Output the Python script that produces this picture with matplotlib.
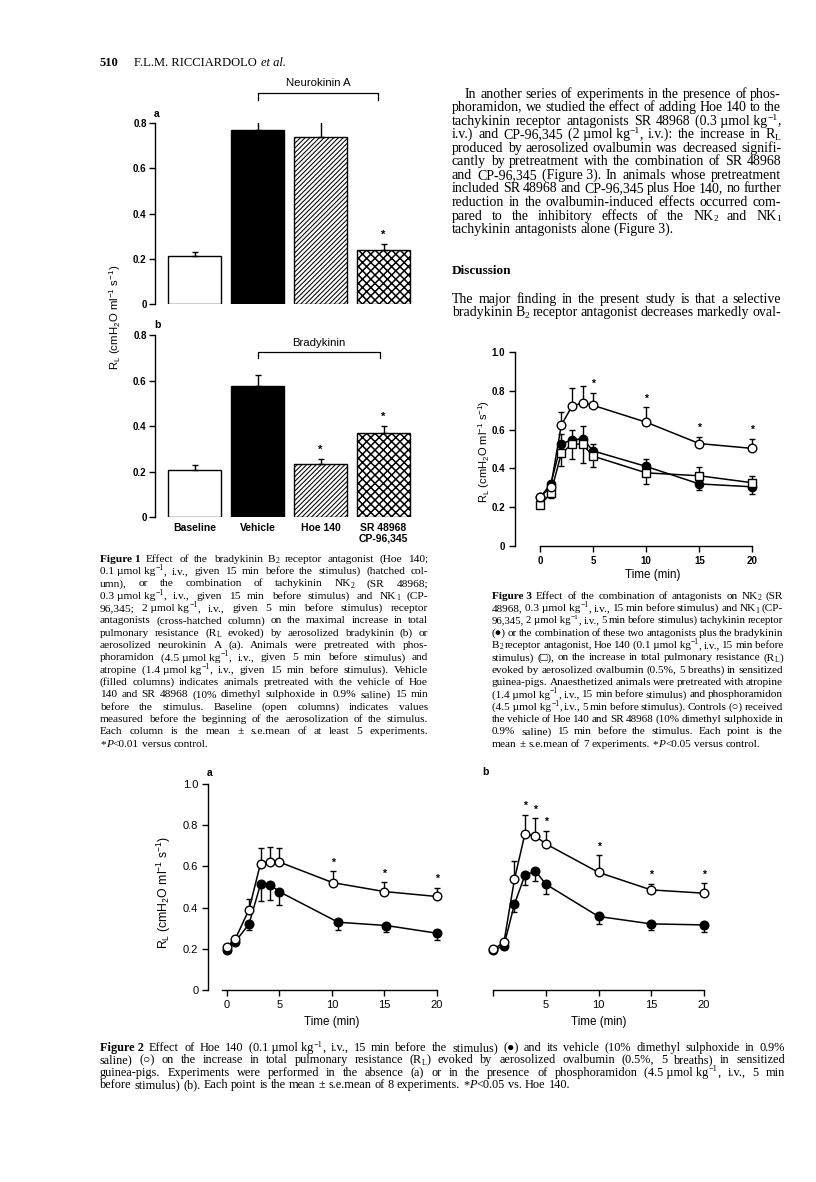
import re
import matplotlib
matplotlib.use('Agg')
import matplotlib.pyplot as plt
import numpy as np

W, H, DPI = 816, 1182, 100

plt.rcParams['font.family'] = ['Liberation Sans', 'DejaVu Sans']
plt.rcParams['mathtext.fontset'] = 'custom'
plt.rcParams['mathtext.rm'] = 'Liberation Sans'
plt.rcParams['mathtext.it'] = 'Liberation Sans:italic'
plt.rcParams['mathtext.bf'] = 'Liberation Sans:bold'
plt.rcParams['hatch.linewidth'] = 0.6

SERIF = ['Liberation Serif', 'DejaVu Serif']
SANS = ['Liberation Sans', 'DejaVu Sans']

# ---------------- data ----------------
# Figure 1 (bars)
fig1_groups = ['Baseline', 'Vehicle', 'Hoe 140', 'SR 48968\nCP-96,345']
fig1a_mean = [0.211, 0.769, 0.737, 0.237]
fig1a_sem = [0.017, 0.057, 0.072, 0.028]
fig1a_sig = [False, False, False, True]
fig1b_mean = [0.208, 0.578, 0.235, 0.369]
fig1b_sem = [0.019, 0.044, 0.021, 0.029]
fig1b_sig = [False, False, True, True]

# Figure 3 (time course)
fig3_time = [0, 1, 2, 3, 4, 5, 10, 15, 20]
fig3_ctrl = [0.254, 0.302, 0.623, 0.720, 0.738, 0.725, 0.638, 0.528, 0.503]
fig3_ctrl_hi = [0.0, 0.0, 0.068, 0.096, 0.085, 0.066, 0.078, 0.035, 0.051]
fig3_ctrl_lo = [0.0, 0.0, 0.0, 0.0, 0.0, 0.0, 0.0, 0.0, 0.0]
fig3_ctrl_sig = [False, False, False, False, False, True, True, True, True]
fig3_nk = [0.250, 0.319, 0.528, 0.545, 0.554, 0.490, 0.410, 0.320, 0.305]
fig3_nk_hi = [0.0, 0.0, 0.048, 0.055, 0.063, 0.035, 0.040, 0.0, 0.0]
fig3_nk_lo = [0.0, 0.0, 0.0, 0.0, 0.0, 0.0, 0.0, 0.032, 0.035]
fig3_hoe = [0.211, 0.271, 0.477, 0.525, 0.525, 0.463, 0.377, 0.362, 0.326]
fig3_hoe_hi = [0.0, 0.0, 0.0, 0.0, 0.0, 0.0, 0.0, 0.043, 0.036]
fig3_hoe_lo = [0.0, 0.025, 0.067, 0.074, 0.095, 0.055, 0.055, 0.0, 0.0]

# Figure 2a
fig2a_time_veh = [0, 0.8, 2.1, 3.2, 4.1, 5.0, 10.1, 15.0, 20.0]
fig2a_veh = [0.211, 0.248, 0.390, 0.614, 0.621, 0.621, 0.521, 0.478, 0.454]
fig2a_veh_hi = [0.0, 0.0, 0.054, 0.076, 0.074, 0.067, 0.057, 0.047, 0.043]
fig2a_veh_sig = [False, False, False, False, False, False, True, True, True]
fig2a_time_hoe = [0, 0.8, 2.1, 3.2, 4.1, 5.0, 10.6, 15.2, 20.0]
fig2a_hoe = [0.192, 0.235, 0.320, 0.513, 0.512, 0.477, 0.329, 0.313, 0.276]
fig2a_hoe_lo = [0.0, 0.010, 0.028, 0.080, 0.075, 0.063, 0.040, 0.033, 0.034]

# Figure 2b
fig2b_time = [0, 1, 2, 3, 4, 5, 10, 15, 20]
fig2b_veh = [0.197, 0.232, 0.537, 0.759, 0.746, 0.709, 0.571, 0.486, 0.470]
fig2b_veh_hi = [0.0, 0.0, 0.089, 0.092, 0.088, 0.064, 0.084, 0.030, 0.048]
fig2b_veh_sig = [False, False, False, True, True, True, True, True, True]
fig2b_hoe = [0.192, 0.216, 0.417, 0.558, 0.577, 0.513, 0.357, 0.321, 0.316]
fig2b_hoe_lo = [0.0, 0.019, 0.040, 0.050, 0.048, 0.048, 0.037, 0.032, 0.036]

RL_LABEL = r'R$\mathregular{_L}$ (cmH$\mathregular{_2}$O ml$\mathregular{^{-1}}$ s$\mathregular{^{-1}}$)'

# ---------------- text ----------------
# markup: ^{..} superscript, _{..} subscript, ~{..} italic, leading § bold word
header_num = '510'
header_name = 'F.L.M. RICCIARDOLO'
header_etal = 'et al.'

fig1_caption = [
    '§Figure 1 Effect of the bradykinin B_{2} receptor antagonist (Hoe 140;',
    '0.1 µmol kg^{−1}, i.v., given 15 min before the stimulus) (hatched col-',
    'umn), or the combination of tachykinin NK_{2} (SR 48968;',
    '0.3 µmol kg^{−1}, i.v., given 15 min before stimulus) and NK_{1} (CP-',
    '96,345; 2 µmol kg^{−1}, i.v., given 5 min before stimulus) receptor',
    'antagonists (cross-hatched column) on the maximal increase in total',
    'pulmonary resistance (R_{L} evoked) by aerosolized bradykinin (b) or',
    'aerosolized neurokinin A (a). Animals were pretreated with phos-',
    'phoramidon (4.5 µmol kg^{−1}, i.v., given 5 min before stimulus) and',
    'atropine (1.4 µmol kg^{−1}, i.v., given 15 min before stimulus). Vehicle',
    '(filled columns) indicates animals pretreated with the vehicle of Hoe',
    '140 and SR 48968 (10% dimethyl sulphoxide in 0.9% saline) 15 min',
    'before the stimulus. Baseline (open columns) indicates values',
    'measured before the beginning of the aerosolization of the stimulus.',
    'Each column is the mean ± s.e.mean of at least 5 experiments.',
    '*~{P}<0.01 versus control.',
]

fig3_caption = [
    '§Figure 3 Effect of the combination of antagonists on NK_{2} (SR',
    '48968, 0.3 µmol kg^{−1}, i.v., 15 min before stimulus) and NK_{1} (CP-',
    '96,345, 2 µmol kg^{−1}, i.v., 5 min before stimulus) tachykinin receptor',
    '(●) or the combination of these two antagonists plus the bradykinin',
    'B_{2} receptor antagonist, Hoe 140 (0.1 µmol kg^{−1}, i.v., 15 min before',
    'stimulus) (□), on the increase in total pulmonary resistance (R_{L})',
    'evoked by aerosolized ovalbumin (0.5%, 5 breaths) in sensitized',
    'guinea-pigs. Anaesthetized animals were pretreated with atropine',
    '(1.4 µmol kg^{−1}, i.v., 15 min before stimulus) and phosphoramidon',
    '(4.5 µmol kg^{−1}, i.v., 5 min before stimulus). Controls (○) received',
    'the vehicle of Hoe 140 and SR 48968 (10% dimethyl sulphoxide in',
    '0.9% saline) 15 min before the stimulus. Each point is the',
    'mean ± s.e.mean of 7 experiments. *~{P}<0.05 versus control.',
]

fig2_caption = [
    '§Figure 2 Effect of Hoe 140 (0.1 µmol kg^{−1}, i.v., 15 min before the stimulus) (●) and its vehicle (10% dimethyl sulphoxide in 0.9%',
    'saline) (○) on the increase in total pulmonary resistance (R_{L}) evoked by aerosolized ovalbumin (0.5%, 5 breaths) in sensitized',
    'guinea-pigs. Experiments were performed in the absence (a) or in the presence of phosphoramidon (4.5 µmol kg^{−1}, i.v., 5 min',
    'before stimulus) (b). Each point is the mean ± s.e.mean of 8 experiments. *~{P}<0.05 vs. Hoe 140.',
]

body_para1 = [
    'In another series of experiments in the presence of phos-',
    'phoramidon, we studied the effect of adding Hoe 140 to the',
    'tachykinin receptor antagonists SR 48968 (0.3 µmol kg^{−1},',
    'i.v.) and CP-96,345 (2 µmol kg^{−1}, i.v.): the increase in R_{L}',
    'produced by aerosolized ovalbumin was decreased signifi-',
    'cantly by pretreatment with the combination of SR 48968',
    'and CP-96,345 (Figure 3). In animals whose pretreatment',
    'included SR 48968 and CP-96,345 plus Hoe 140, no further',
    'reduction in the ovalbumin-induced effects occurred com-',
    'pared to the inhibitory effects of the NK_{2} and NK_{1}',
    'tachykinin antagonists alone (Figure 3).',
]
discussion_title = 'Discussion'
body_para2 = [
    'The major finding in the present study is that a selective',
    'bradykinin B_{2} receptor antagonist decreases markedly oval-',
]

# ---------------- figure ----------------
fig = plt.figure(figsize=(W / DPI, H / DPI), dpi=DPI)
fig.patch.set_facecolor('white')
R = fig.canvas.get_renderer()


def fx(x):
    return x / W


def fy(y):
    return 1 - y / H


def add_ax(left, top, right, bottom):
    return fig.add_axes([fx(left), fy(bottom), (right - left) / W, (bottom - top) / H])


def ftext(x, y, s, **kw):
    return fig.text(fx(x), fy(y), s, **kw)


PAT = re.compile(r'(\^\{[^}]*\}|_\{[^}]*\}|~\{[^}]*\})')


def tokenize(line):
    s = line
    for k in ('1', '2', '3'):
        s = s.replace('Figure ' + k, 'Figure\u00a0' + k)
    s = s.replace(' µmol', '\u00a0µmol').replace('µmol kg', 'µmol\u00a0kg')
    return s.split(' ')


def make_token(tok, size):
    bold = tok.startswith('§')
    if bold:
        tok = tok[1:]
    pieces = []
    for part in PAT.split(tok):
        if not part:
            continue
        kind = 'n'
        if part.startswith('^{'):
            kind, part = 'sup', part[2:-1]
        elif part.startswith('_{'):
            kind, part = 'sub', part[2:-1]
        elif part.startswith('~{'):
            kind, part = 'it', part[2:-1]
        kw = dict(family=SERIF, va='baseline', ha='left')
        if kind == 'it':
            kw['style'] = 'italic'
        if bold:
            kw['fontweight'] = 'bold'
        t = fig.text(0, 0, part.replace('\u00a0', ' '), fontsize=size, **kw)
        pieces.append([t, kind])
    return pieces


def set_token_size(pieces, size):
    for t, kind in pieces:
        t.set_fontsize(size * (0.68 if kind in ('sup', 'sub') else 1.0))


def token_width(pieces):
    return sum(t.get_window_extent(R).width for t, _ in pieces)


def place_token(pieces, x, yb, size):
    em = size * DPI / 72
    for t, kind in pieces:
        y = yb
        if kind == 'sup':
            y = yb - 0.36 * em
        elif kind == 'sub':
            y = yb + 0.13 * em
        t.set_position((fx(x), fy(y)))
        x += t.get_window_extent(R).width


def paragraph(lines, x0, x1, y0, dy, size, indent=0, last_justified=False):
    space = size * DPI / 72 * 0.25
    for i, line in enumerate(lines):
        toks = [make_token(tk, size) for tk in tokenize(line)]
        fs = size
        for p in toks:
            set_token_size(p, fs)
        xs = x0 + (indent if i == 0 else 0)
        avail = x1 - xs
        widths = [token_width(p) for p in toks]
        n = len(toks)
        total = sum(widths)
        last = (i == len(lines) - 1) and not last_justified
        if total + space * 0.7 * (n - 1) > avail:
            fs = size * (avail - space * 0.7 * (n - 1)) / total
            for p in toks:
                set_token_size(p, fs)
            widths = [token_width(p) for p in toks]
            total = sum(widths)
        if n > 1 and not last:
            gap = (avail - total) / (n - 1)
        else:
            gap = space
        cur = xs
        yb = y0 + i * dy + 0.33 * fs * DPI / 72
        for p, w in zip(toks, widths):
            place_token(p, cur, yb, fs)
            cur += w + gap


# ---------- header ----------
ftext(100, 62, header_num, family=SERIF, fontsize=9, fontweight='bold', va='center_baseline')
t_name = ftext(134, 62, header_name, family=SERIF, fontsize=9, va='center_baseline')
wn = t_name.get_window_extent(R).width
ftext(134 + wn + 4, 62, header_etal, family=SERIF, fontsize=9, style='italic', va='center_baseline')


# ---------- Figure 1 ----------
BAR_STYLES = [dict(facecolor='white', hatch=None), dict(facecolor='black', hatch=None),
              dict(facecolor='white', hatch='///////'), dict(facecolor='white', hatch='xxxx')]
HATCH_LW = [0.6, 0.6, 0.75, 1.1]


def bar_panel(ax, means, sems, sig):
    x = np.arange(len(means))
    for i in range(len(means)):
        with plt.rc_context({'hatch.linewidth': HATCH_LW[i]}):
            bars = ax.bar(x[i], means[i], width=0.84, edgecolor='black', linewidth=1.0,
                          zorder=2, **BAR_STYLES[i])
            for p in bars:
                if hasattr(p, 'set_hatch_linewidth'):
                    p.set_hatch_linewidth(HATCH_LW[i])
    ax.errorbar(x, means, yerr=[np.zeros(len(means)), sems], fmt='none', ecolor='black',
                elinewidth=1.0, capsize=2.5, capthick=1.0, zorder=3)
    for i in range(len(means)):
        if sig[i]:
            ax.annotate('*', xy=(x[i], means[i] + sems[i]), xytext=(0, 3),
                        textcoords='offset points', ha='center', va='bottom', fontsize=8,
                        fontweight='bold')
    ax.set_xlim(-0.63, 3.5)
    ax.set_ylim(0, 0.8)
    for sp in ['top', 'right', 'bottom']:
        ax.spines[sp].set_visible(False)
    ax.spines['left'].set_linewidth(1.0)
    ax.set_yticks([0, 0.2, 0.4, 0.6, 0.8])
    ax.set_yticklabels(['0', '0.2', '0.4', '0.6', '0.8'])
    ax.tick_params(axis='y', direction='out', length=4, width=1.0, labelsize=7, pad=2)
    for lbl in ax.get_yticklabels():
        lbl.set_fontweight('bold')
    ax.patch.set_alpha(0)


def bracket(ax, x0, x1, y_bar, y_end, y_text, label):
    ax.plot([x0, x0, x1, x1], [y_end, y_bar, y_bar, y_end], color='black', lw=0.9,
            clip_on=False)
    ax.text((x0 + x1) / 2, y_text, label, ha='center', va='center', fontsize=8.2)


ax1a = add_ax(155, 123, 415, 304)
bar_panel(ax1a, fig1a_mean, fig1a_sem, fig1a_sig)
ax1a.set_xticks([])
bracket(ax1a, 1.0, 2.92, 0.933, 0.90, 0.978, 'Neurokinin A')

ax1b = add_ax(155, 335, 415, 517)
bar_panel(ax1b, fig1b_mean, fig1b_sem, fig1b_sig)
ax1b.set_xticks(np.arange(len(fig1_groups)))
ax1b.set_xticklabels(fig1_groups, fontsize=7.5, fontweight='bold', linespacing=1.1)
ax1b.tick_params(axis='x', length=0, pad=4)
bracket(ax1b, 1.0, 2.95, 0.725, 0.699, 0.766, 'Bradykinin')

ftext(157, 114, 'a', fontsize=7.5, fontweight='bold', ha='center', va='center')
ftext(157, 325, 'b', fontsize=7.5, fontweight='bold', ha='center', va='center')
ftext(115, 317, RL_LABEL, rotation=90, ha='center', va='center', fontsize=8.2)

paragraph(fig1_caption, 100, 428, 558, 12.33, 8.2)


# ---------- line panels ----------
def series(ax, t, y, lo, hi, marker, face, ms, sig=None, z=3):
    ax.errorbar(t, y, yerr=[lo, hi], fmt='none', ecolor='black', elinewidth=1.0,
                capsize=2.2, capthick=1.0, zorder=z)
    ax.plot(t, y, color='black', lw=1.1, marker=marker, ms=ms, mfc=face, mec='black',
            mew=1.0, zorder=z + 0.5)
    if sig is not None:
        for ti, yi, hi_i, s in zip(t, y, hi, sig):
            if s:
                ax.annotate('*', xy=(ti, yi + hi_i), xytext=(0, 2.5), textcoords='offset points',
                            ha='center', va='bottom', fontsize=7.5, fontweight='bold')


def style_line_axes(ax, xlim, left_visible=True, xticklabels=None, bold=False, tsize=7.5):
    ax.set_xlim(*xlim)
    ax.set_ylim(0, 1.0)
    ax.spines['top'].set_visible(False)
    ax.spines['right'].set_visible(False)
    ax.spines['bottom'].set_bounds(0, 20)
    ax.spines['bottom'].set_linewidth(1.0)
    ax.set_xticks([0, 5, 10, 15, 20])
    if xticklabels is not None:
        ax.set_xticklabels(xticklabels)
    ax.tick_params(axis='x', direction='out', length=4, width=1.0, labelsize=tsize, pad=3)
    if left_visible:
        ax.spines['left'].set_bounds(0, 1.0)
        ax.spines['left'].set_linewidth(1.0)
        ax.set_yticks([0, 0.2, 0.4, 0.6, 0.8, 1.0])
        ax.set_yticklabels(['0', '0.2', '0.4', '0.6', '0.8', '1.0'])
        ax.tick_params(axis='y', direction='out', length=4, width=1.0, labelsize=tsize, pad=3)
    else:
        ax.spines['left'].set_visible(False)
        ax.set_yticks([])
    if bold:
        for lbl in ax.get_xticklabels() + ax.get_yticklabels():
            lbl.set_fontweight('bold')
    ax.patch.set_alpha(0)


# Figure 3
ax3 = add_ax(515, 352, 763, 546)
series(ax3, fig3_time, fig3_nk, fig3_nk_lo, fig3_nk_hi, 'o', 'black', 6.0, z=3)
series(ax3, fig3_time, fig3_hoe, fig3_hoe_lo, fig3_hoe_hi, 's', 'white', 5.8, z=4)
series(ax3, fig3_time, fig3_ctrl, fig3_ctrl_lo, fig3_ctrl_hi, 'o', 'white', 6.2,
       sig=fig3_ctrl_sig, z=5)
style_line_axes(ax3, (-2.36, 21.0), bold=True, tsize=7)
ftext(653, 575, 'Time (min)', ha='center', va='center', fontsize=8.4)
ftext(484, 452, RL_LABEL, rotation=90, ha='center', va='center', fontsize=8)

paragraph(fig3_caption, 492, 783, 595, 12.33, 8.1)

# Figure 2a
ax2a = add_ax(208, 784, 445, 990)
zero = [0.0] * len(fig2a_hoe)
series(ax2a, fig2a_time_hoe, fig2a_hoe, fig2a_hoe_lo, zero, 'o', 'black', 6.2, z=3)
series(ax2a, fig2a_time_veh, fig2a_veh, zero, fig2a_veh_hi, 'o', 'white', 6.2,
       sig=fig2a_veh_sig, z=5)
style_line_axes(ax2a, (-1.81, 20.8), tsize=8)
ax2a.spines['bottom'].set_bounds(-0.5, 20)
ftext(210, 773, 'a', fontsize=7.5, fontweight='bold', ha='center', va='center')
ftext(332, 1022, 'Time (min)', ha='center', va='center', fontsize=8.4)
ftext(164, 892, RL_LABEL, rotation=90, ha='center', va='center', fontsize=8.8)

# Figure 2b
ax2b = add_ax(474, 784, 712, 990)
series(ax2b, fig2b_time, fig2b_hoe, fig2b_hoe_lo, zero, 'o', 'black', 6.2, z=3)
series(ax2b, fig2b_time, fig2b_veh, zero, fig2b_veh_hi, 'o', 'white', 6.2,
       sig=fig2b_veh_sig, z=5)
style_line_axes(ax2b, (-1.85, 20.8), left_visible=False,
                xticklabels=['', '5', '10', '15', '20'], tsize=8)
ftext(485, 772, 'b', fontsize=7.5, fontweight='bold', ha='center', va='center')
ftext(599, 1022, 'Time (min)', ha='center', va='center', fontsize=8.4)

paragraph(fig2_caption, 100, 785, 1047, 12.4, 8.8)

# ---------- body text (right column) ----------
paragraph(body_para1, 452, 781, 93, 13.55, 10.0, indent=13)
ftext(452, 269, discussion_title, family=SERIF, fontsize=9.5, fontweight='bold',
      va='center_baseline')
paragraph(body_para2, 452, 781, 298, 13.2, 10.0, last_justified=True)

fig.savefig('out.png', dpi=DPI, facecolor='white')
